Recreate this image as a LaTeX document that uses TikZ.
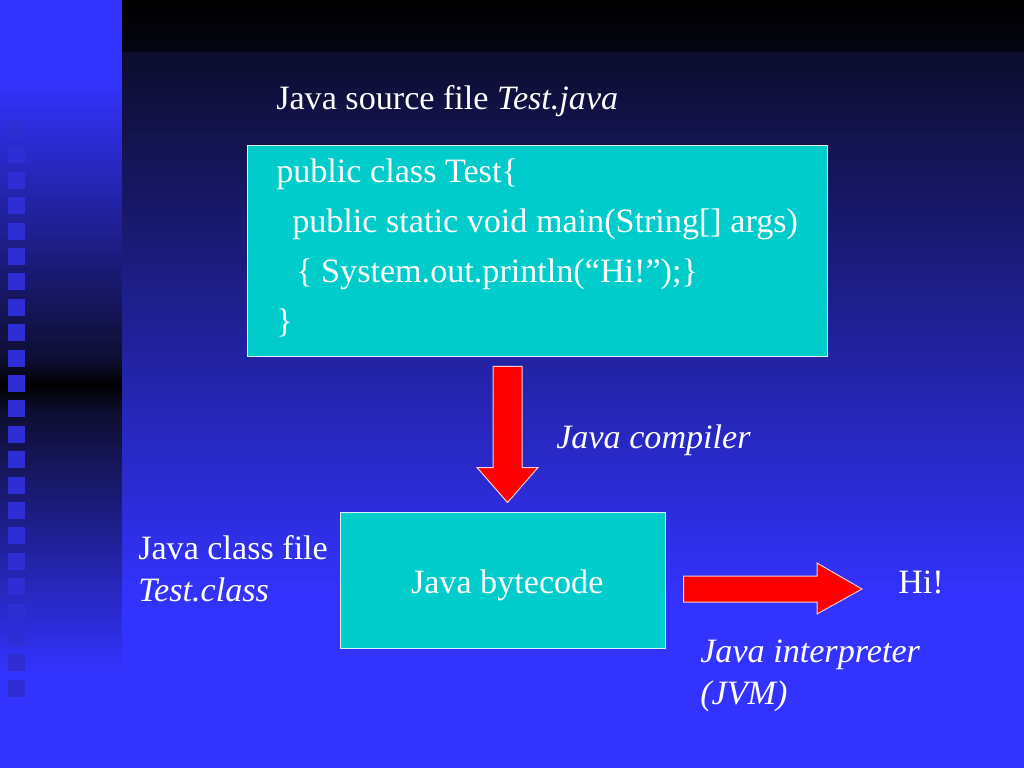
\documentclass[tikz,border=0pt]{standalone}
\usepackage{fontspec}
\setmainfont{Liberation Serif}
\usepackage{xcolor}
\usepackage{tikz}
\usetikzlibrary{calc}

\definecolor{slideblue}{RGB}{51,51,255}
\definecolor{slidenavy}{RGB}{13,13,46}
\definecolor{stripdark}{RGB}{14,14,50}
\definecolor{boxcyan}{RGB}{0,204,204}
\definecolor{squareblue}{RGB}{46,46,212}

\tikzset{
  slidetext/.style={anchor=base west, inner sep=0pt, text=white,
    font=\fontsize{24}{28}\selectfont},
  cyanbox/.style={draw=white!85!cyan, line width=0.7pt, fill=boxcyan,
    text=white, font=\fontsize{24}{28}\selectfont},
  blockarrow/.style={fill=red, draw=white!80!red, line width=0.7pt}
}

\begin{document}
\begin{tikzpicture}[x=0.703pt, y=-0.703pt]
  \useasboundingbox (0,0) rectangle (1024,768);

  % background
  \fill[slideblue] (0,0) rectangle (122,80);
  \shade[top color=slideblue, bottom color=stripdark] (0,80) rectangle (122,360);
  \shade[top color=stripdark, bottom color=black] (0,360) rectangle (122,385);
  \shade[top color=black, bottom color=stripdark] (0,385) rectangle (122,412);
  \shade[top color=stripdark, bottom color=slideblue] (0,412) rectangle (122,672);
  \fill[slideblue] (0,672) rectangle (122,768);
  \shade[top color=black, bottom color=black!60!slidenavy] (122,0) rectangle (1024,52);
  \shade[top color=slidenavy, bottom color=slideblue] (122,52) rectangle (1024,600);
  \fill[slideblue] (122,600) rectangle (1024,768);
  \foreach \k in {0,...,22} {
    \fill[squareblue] (8,{121+25.4*\k}) rectangle (25,{138+25.4*\k});
  }

  % boxes
  \node[cyanbox, minimum width=408.4pt, minimum height=149pt] (src) at (537.5,251) {};
  \node[cyanbox, minimum width=227.8pt, minimum height=95.6pt,
    text height=19.5pt, text depth=0pt] (bc) at (503,580) {\kern6pt Java bytecode};

  % texts
  \node[slidetext] (srclab) at (276,109) {Java source file \textit{Test.java}};
  \node[slidetext] (line1) at (276,182) {public class Test\{};
  \node[slidetext] (line2) at (292,232) {public static void main(String[] args)};
  \node[slidetext] (line3) at (296,282) {\{ System.out.println(“Hi!”);\}};
  \node[slidetext] (line4) at (276,332) {\}};
  \node[slidetext] (cmplab) at (556,448) {\textit{Java compiler}};
  \node[slidetext] (clslab) at (138,559) {Java class file};
  \node[slidetext] (clsname) at (138,601) {\textit{Test.class}};
  \node[slidetext] (hi) at (898,593) {Hi!};
  \node[slidetext] (jvmlab) at (700,662) {\textit{Java interpreter}};
  \node[slidetext] (jvmname) at (700,704) {\textit{(JVM)}};

  % compiler arrow
  \coordinate (cmpA) at ($(src.south)+(-30,9)$);
  \coordinate (cmpB) at ($(bc.north)+(4.5,-9)$);
  \draw[blockarrow] ($(cmpA)+(-14.5,0)$) -- ($(cmpA)+(14.5,0)$)
    -- ($(cmpB)+(14.5,-35)$) -- ($(cmpB)+(30.5,-35)$) -- (cmpB)
    -- ($(cmpB)+(-30.5,-35)$) -- ($(cmpB)+(-14.5,-35)$) -- cycle;

  % interpreter arrow
  \coordinate (jvmA) at ($(bc.east)+(18,9)$);
  \coordinate (jvmB) at ($(hi.base west)+(-36,-4)$);
  \draw[blockarrow] ($(jvmA)+(0,-13)$) -- ($(jvmB)+(-45,-13)$)
    -- ($(jvmB)+(-45,-26)$) -- (jvmB) -- ($(jvmB)+(-45,25)$)
    -- ($(jvmB)+(-45,13)$) -- ($(jvmA)+(0,13)$) -- cycle;
\end{tikzpicture}
\end{document}
